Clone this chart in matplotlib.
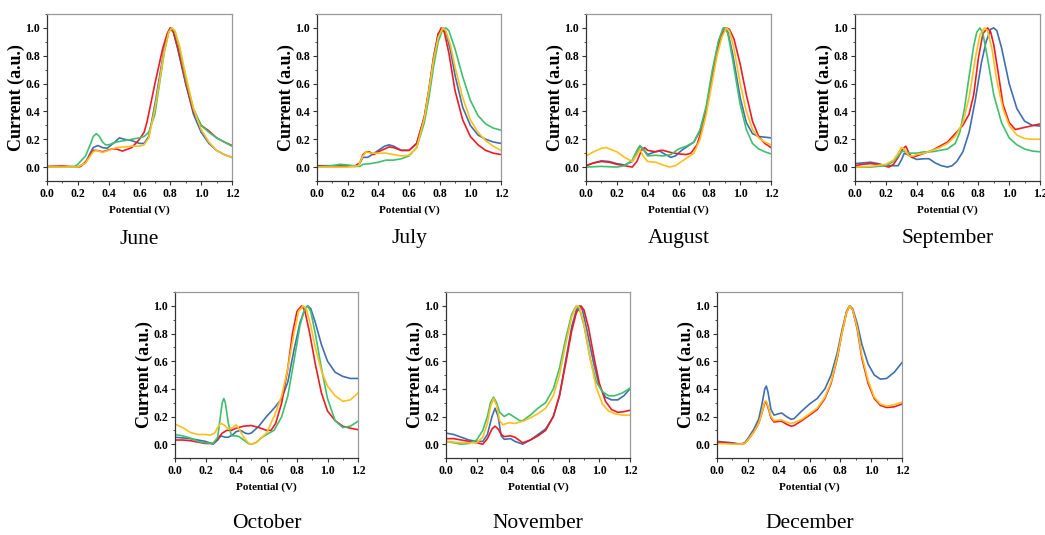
import matplotlib
matplotlib.use("Agg")
import matplotlib.pyplot as plt
from matplotlib.ticker import MultipleLocator, FormatStrFormatter

plt.rcParams["font.family"] = "Liberation Serif"

# colours of the four traces
BLUE = "#3f6fb0"
RED = "#ec1c24"
YELLOW = "#fdbf1e"
GREEN = "#3fc06e"

# each month: colour -> (potential V, normalised current)
june = {
    BLUE: ([0, 0.1, 0.2, 0.25, 0.28, 0.30, 0.33, 0.36, 0.39, 0.44, 0.47, 0.50, 0.55, 0.60, 0.63, 0.66, 0.70, 0.73, 0.76, 0.79, 0.80, 0.82, 0.85, 0.90, 0.95, 1.00, 1.05, 1.10, 1.15, 1.20],
           [0, 0, 0.0, 0.03, 0.10, 0.14, 0.155, 0.14, 0.135, 0.18, 0.21, 0.20, 0.19, 0.17, 0.17, 0.22, 0.45, 0.65, 0.85, 0.98, 1.0, 0.97, 0.84, 0.60, 0.38, 0.25, 0.17, 0.12, 0.09, 0.07]),
    RED: ([0, 0.1, 0.2, 0.22, 0.26, 0.30, 0.32, 0.36, 0.42, 0.45, 0.49, 0.55, 0.60, 0.63, 0.65, 0.70, 0.72, 0.75, 0.78, 0.80, 0.82, 0.85, 0.90, 0.95, 1.00, 1.05, 1.10, 1.15, 1.20],
          [0.005, 0.008, 0.0, 0.005, 0.05, 0.12, 0.12, 0.11, 0.13, 0.13, 0.115, 0.14, 0.20, 0.25, 0.33, 0.60, 0.70, 0.85, 0.96, 1.0, 0.97, 0.85, 0.60, 0.40, 0.30, 0.26, 0.21, 0.18, 0.155]),
    YELLOW: ([0, 0.1, 0.2, 0.25, 0.30, 0.32, 0.36, 0.40, 0.45, 0.50, 0.55, 0.60, 0.63, 0.66, 0.70, 0.73, 0.76, 0.79, 0.81, 0.83, 0.86, 0.90, 0.95, 1.00, 1.05, 1.10, 1.15, 1.20],
             [0, 0, 0, 0.03, 0.11, 0.12, 0.105, 0.12, 0.14, 0.145, 0.15, 0.15, 0.16, 0.21, 0.42, 0.62, 0.83, 0.97, 1.0, 0.98, 0.87, 0.66, 0.42, 0.27, 0.18, 0.12, 0.09, 0.07]),
    GREEN: ([0, 0.1, 0.18, 0.2, 0.25, 0.28, 0.30, 0.32, 0.34, 0.36, 0.38, 0.40, 0.45, 0.50, 0.55, 0.60, 0.63, 0.66, 0.70, 0.73, 0.76, 0.79, 0.81, 0.83, 0.86, 0.90, 0.95, 1.00, 1.05, 1.10, 1.15, 1.20],
            [0, 0, 0.005, 0.02, 0.08, 0.16, 0.22, 0.24, 0.22, 0.18, 0.16, 0.16, 0.18, 0.19, 0.20, 0.21, 0.22, 0.25, 0.38, 0.60, 0.82, 0.97, 1.0, 0.97, 0.85, 0.63, 0.42, 0.30, 0.25, 0.21, 0.18, 0.15]),
}

july = {
    BLUE: ([0, 0.1, 0.2, 0.25, 0.28, 0.30, 0.33, 0.36, 0.40, 0.44, 0.47, 0.50, 0.55, 0.60, 0.65, 0.70, 0.73, 0.76, 0.79, 0.82, 0.84, 0.87, 0.90, 0.95, 1.00, 1.05, 1.10, 1.15, 1.20],
           [0.01, 0.01, 0.01, 0.01, 0.03, 0.07, 0.07, 0.09, 0.12, 0.15, 0.16, 0.15, 0.12, 0.12, 0.17, 0.36, 0.56, 0.79, 0.96, 1.0, 0.97, 0.84, 0.66, 0.43, 0.30, 0.23, 0.20, 0.18, 0.17]),
    RED: ([0, 0.1, 0.2, 0.25, 0.28, 0.30, 0.32, 0.34, 0.37, 0.40, 0.44, 0.47, 0.50, 0.55, 0.60, 0.65, 0.70, 0.73, 0.76, 0.79, 0.81, 0.83, 0.86, 0.90, 0.95, 1.00, 1.05, 1.10, 1.15, 1.20],
          [0.005, 0.005, 0.005, 0.005, 0.03, 0.09, 0.11, 0.11, 0.09, 0.11, 0.13, 0.145, 0.14, 0.12, 0.12, 0.17, 0.36, 0.55, 0.78, 0.95, 1.0, 0.97, 0.82, 0.55, 0.34, 0.22, 0.16, 0.12, 0.10, 0.09]),
    YELLOW: ([0, 0.1, 0.2, 0.27, 0.30, 0.32, 0.35, 0.40, 0.45, 0.50, 0.55, 0.60, 0.65, 0.70, 0.73, 0.76, 0.79, 0.82, 0.84, 0.87, 0.90, 0.95, 1.00, 1.05, 1.10, 1.15, 1.20],
             [0, 0, 0, 0.01, 0.08, 0.11, 0.10, 0.10, 0.10, 0.09, 0.08, 0.085, 0.14, 0.35, 0.55, 0.77, 0.93, 1.0, 0.98, 0.88, 0.72, 0.50, 0.34, 0.25, 0.19, 0.15, 0.12]),
    GREEN: ([0, 0.1, 0.15, 0.2, 0.25, 0.28, 0.30, 0.35, 0.40, 0.45, 0.50, 0.55, 0.60, 0.65, 0.70, 0.73, 0.76, 0.79, 0.82, 0.84, 0.86, 0.90, 0.95, 1.00, 1.05, 1.10, 1.15, 1.20],
            [0, 0.01, 0.02, 0.015, 0.005, 0.005, 0.02, 0.025, 0.035, 0.05, 0.05, 0.06, 0.08, 0.14, 0.32, 0.50, 0.72, 0.90, 0.99, 1.0, 0.98, 0.85, 0.65, 0.48, 0.37, 0.31, 0.28, 0.265]),
}

august = {
    BLUE: ([0, 0.05, 0.1, 0.15, 0.2, 0.25, 0.30, 0.33, 0.35, 0.37, 0.40, 0.45, 0.48, 0.50, 0.55, 0.58, 0.62, 0.66, 0.70, 0.74, 0.78, 0.82, 0.86, 0.89, 0.90, 0.92, 0.95, 1.00, 1.04, 1.08, 1.12, 1.16, 1.20],
           [0.01, 0.03, 0.045, 0.04, 0.025, 0.015, 0.04, 0.10, 0.15, 0.13, 0.09, 0.11, 0.115, 0.10, 0.07, 0.08, 0.12, 0.15, 0.18, 0.26, 0.42, 0.68, 0.90, 0.99, 1.0, 0.97, 0.82, 0.50, 0.32, 0.24, 0.22, 0.215, 0.21]),
    RED: ([0, 0.05, 0.1, 0.15, 0.2, 0.25, 0.30, 0.33, 0.36, 0.38, 0.40, 0.45, 0.48, 0.50, 0.55, 0.60, 0.65, 0.68, 0.72, 0.76, 0.80, 0.84, 0.88, 0.91, 0.93, 0.96, 1.00, 1.04, 1.08, 1.12, 1.16, 1.20],
          [0.01, 0.03, 0.04, 0.035, 0.02, 0.01, 0.0, 0.04, 0.12, 0.14, 0.12, 0.11, 0.12, 0.12, 0.105, 0.095, 0.09, 0.10, 0.16, 0.30, 0.53, 0.78, 0.95, 1.0, 0.99, 0.92, 0.74, 0.52, 0.33, 0.22, 0.17, 0.14]),
    YELLOW: ([0, 0.05, 0.1, 0.13, 0.2, 0.25, 0.30, 0.33, 0.35, 0.37, 0.40, 0.45, 0.50, 0.54, 0.58, 0.62, 0.66, 0.70, 0.74, 0.78, 0.82, 0.85, 0.88, 0.91, 0.93, 0.96, 1.00, 1.04, 1.08, 1.12, 1.16, 1.20],
             [0.08, 0.11, 0.135, 0.14, 0.11, 0.07, 0.04, 0.09, 0.13, 0.08, 0.04, 0.035, 0.015, 0.0, 0.01, 0.04, 0.07, 0.10, 0.20, 0.38, 0.62, 0.80, 0.93, 1.0, 0.98, 0.85, 0.60, 0.40, 0.27, 0.21, 0.18, 0.16]),
    GREEN: ([0, 0.1, 0.2, 0.25, 0.30, 0.33, 0.35, 0.37, 0.40, 0.45, 0.50, 0.55, 0.60, 0.65, 0.70, 0.74, 0.78, 0.82, 0.86, 0.89, 0.90, 0.92, 0.95, 1.00, 1.04, 1.08, 1.12, 1.16, 1.20],
            [0.0, 0.005, 0.0, 0.01, 0.05, 0.12, 0.155, 0.13, 0.08, 0.085, 0.08, 0.09, 0.13, 0.15, 0.18, 0.27, 0.44, 0.70, 0.91, 1.0, 1.0, 0.96, 0.78, 0.45, 0.27, 0.17, 0.13, 0.11, 0.095]),
}

september = {
    BLUE: ([0, 0.05, 0.1, 0.15, 0.2, 0.25, 0.28, 0.30, 0.32, 0.34, 0.37, 0.40, 0.45, 0.48, 0.52, 0.56, 0.60, 0.63, 0.66, 0.70, 0.74, 0.78, 0.82, 0.85, 0.88, 0.90, 0.92, 0.95, 1.00, 1.05, 1.10, 1.15, 1.20],
           [0.025, 0.03, 0.035, 0.025, 0.01, 0.01, 0.01, 0.05, 0.10, 0.09, 0.07, 0.055, 0.06, 0.06, 0.03, 0.01, 0.0, 0.01, 0.04, 0.11, 0.25, 0.48, 0.75, 0.90, 0.99, 1.0, 0.98, 0.86, 0.60, 0.42, 0.33, 0.30, 0.295]),
    RED: ([0, 0.05, 0.1, 0.15, 0.2, 0.22, 0.25, 0.28, 0.31, 0.33, 0.35, 0.37, 0.40, 0.45, 0.50, 0.55, 0.60, 0.65, 0.70, 0.74, 0.77, 0.80, 0.83, 0.86, 0.88, 0.90, 0.93, 0.96, 1.00, 1.04, 1.08, 1.12, 1.16, 1.20],
          [0.01, 0.02, 0.025, 0.02, 0.005, 0.0, 0.02, 0.07, 0.13, 0.15, 0.10, 0.07, 0.08, 0.10, 0.12, 0.15, 0.18, 0.24, 0.30, 0.38, 0.52, 0.78, 0.96, 1.0, 0.97, 0.88, 0.67, 0.45, 0.32, 0.27, 0.28, 0.29, 0.30, 0.31]),
    YELLOW: ([0, 0.1, 0.2, 0.25, 0.28, 0.30, 0.32, 0.35, 0.38, 0.40, 0.45, 0.50, 0.55, 0.60, 0.65, 0.70, 0.74, 0.78, 0.81, 0.84, 0.86, 0.89, 0.92, 0.96, 1.00, 1.05, 1.10, 1.15, 1.20],
             [0.0, 0.005, 0.02, 0.05, 0.10, 0.14, 0.13, 0.08, 0.08, 0.09, 0.10, 0.12, 0.14, 0.17, 0.22, 0.32, 0.50, 0.78, 0.95, 1.0, 0.98, 0.84, 0.62, 0.42, 0.30, 0.23, 0.205, 0.20, 0.20]),
    GREEN: ([0, 0.1, 0.2, 0.25, 0.28, 0.30, 0.32, 0.35, 0.40, 0.45, 0.50, 0.55, 0.60, 0.65, 0.68, 0.71, 0.74, 0.77, 0.79, 0.81, 0.83, 0.86, 0.90, 0.95, 1.00, 1.05, 1.10, 1.15, 1.20],
            [0.0, 0.0, 0.01, 0.04, 0.08, 0.11, 0.115, 0.10, 0.10, 0.11, 0.11, 0.12, 0.13, 0.17, 0.25, 0.42, 0.65, 0.87, 0.97, 1.0, 0.96, 0.78, 0.52, 0.32, 0.21, 0.16, 0.13, 0.115, 0.11]),
}

october = {
    BLUE: ([0, 0.05, 0.1, 0.15, 0.2, 0.25, 0.28, 0.30, 0.33, 0.35, 0.38, 0.40, 0.43, 0.46, 0.48, 0.50, 0.55, 0.60, 0.65, 0.70, 0.74, 0.78, 0.82, 0.85, 0.87, 0.89, 0.92, 0.96, 1.00, 1.05, 1.10, 1.15, 1.20],
           [0.05, 0.045, 0.04, 0.03, 0.02, 0.0, 0.03, 0.06, 0.05, 0.05, 0.07, 0.09, 0.10, 0.08, 0.075, 0.08, 0.13, 0.20, 0.26, 0.33, 0.45, 0.68, 0.88, 0.97, 1.0, 0.98, 0.88, 0.72, 0.60, 0.52, 0.49, 0.475, 0.475]),
    RED: ([0, 0.05, 0.1, 0.15, 0.2, 0.25, 0.28, 0.31, 0.34, 0.37, 0.40, 0.45, 0.50, 0.55, 0.60, 0.63, 0.66, 0.70, 0.74, 0.77, 0.80, 0.83, 0.85, 0.88, 0.92, 0.96, 1.00, 1.05, 1.10, 1.15, 1.20],
          [0.03, 0.03, 0.025, 0.015, 0.005, 0.005, 0.04, 0.08, 0.10, 0.10, 0.115, 0.13, 0.135, 0.12, 0.10, 0.10, 0.15, 0.30, 0.55, 0.80, 0.96, 1.0, 0.97, 0.82, 0.58, 0.37, 0.24, 0.17, 0.13, 0.115, 0.105]),
    YELLOW: ([0, 0.05, 0.1, 0.15, 0.2, 0.23, 0.26, 0.28, 0.30, 0.32, 0.35, 0.38, 0.40, 0.42, 0.45, 0.48, 0.50, 0.53, 0.56, 0.60, 0.65, 0.70, 0.74, 0.78, 0.81, 0.84, 0.86, 0.89, 0.92, 0.96, 1.00, 1.05, 1.10, 1.15, 1.20],
             [0.145, 0.12, 0.085, 0.07, 0.07, 0.065, 0.08, 0.12, 0.15, 0.14, 0.11, 0.12, 0.14, 0.11, 0.05, 0.01, 0.0, 0.01, 0.04, 0.08, 0.20, 0.35, 0.55, 0.80, 0.96, 1.0, 0.98, 0.86, 0.70, 0.53, 0.42, 0.35, 0.31, 0.32, 0.37]),
    GREEN: ([0, 0.05, 0.1, 0.15, 0.2, 0.25, 0.28, 0.30, 0.31, 0.32, 0.33, 0.35, 0.37, 0.40, 0.42, 0.45, 0.48, 0.50, 0.53, 0.56, 0.60, 0.65, 0.70, 0.74, 0.78, 0.82, 0.85, 0.87, 0.89, 0.92, 0.96, 1.00, 1.05, 1.10, 1.15, 1.20],
            [0.07, 0.06, 0.045, 0.02, 0.01, 0.005, 0.05, 0.22, 0.30, 0.33, 0.30, 0.15, 0.06, 0.06, 0.055, 0.03, 0.005, 0.0, 0.01, 0.04, 0.07, 0.10, 0.20, 0.35, 0.60, 0.86, 0.98, 1.0, 0.96, 0.80, 0.55, 0.33, 0.17, 0.12, 0.13, 0.165]),
}

november = {
    BLUE: ([0, 0.05, 0.1, 0.15, 0.2, 0.24, 0.27, 0.30, 0.32, 0.34, 0.36, 0.38, 0.42, 0.45, 0.50, 0.55, 0.60, 0.65, 0.70, 0.74, 0.78, 0.82, 0.85, 0.87, 0.89, 0.92, 0.96, 1.00, 1.04, 1.08, 1.12, 1.16, 1.20],
           [0.08, 0.07, 0.05, 0.03, 0.02, 0.02, 0.07, 0.20, 0.26, 0.20, 0.06, 0.035, 0.04, 0.02, 0.0, 0.03, 0.07, 0.11, 0.20, 0.35, 0.60, 0.85, 0.97, 1.0, 0.97, 0.82, 0.60, 0.42, 0.34, 0.32, 0.32, 0.35, 0.40]),
    RED: ([0, 0.05, 0.1, 0.15, 0.2, 0.24, 0.27, 0.30, 0.32, 0.34, 0.36, 0.38, 0.42, 0.45, 0.50, 0.55, 0.60, 0.65, 0.70, 0.74, 0.78, 0.82, 0.85, 0.88, 0.90, 0.93, 0.97, 1.00, 1.04, 1.08, 1.12, 1.16, 1.20],
          [0.04, 0.04, 0.03, 0.02, 0.01, 0.0, 0.04, 0.11, 0.13, 0.11, 0.07, 0.055, 0.06, 0.05, 0.01, 0.03, 0.06, 0.10, 0.20, 0.35, 0.58, 0.82, 0.95, 1.0, 0.97, 0.84, 0.60, 0.44, 0.31, 0.25, 0.23, 0.235, 0.245]),
    YELLOW: ([0, 0.05, 0.1, 0.15, 0.2, 0.24, 0.27, 0.29, 0.31, 0.33, 0.35, 0.37, 0.41, 0.45, 0.50, 0.55, 0.60, 0.65, 0.70, 0.74, 0.78, 0.82, 0.85, 0.87, 0.90, 0.94, 0.98, 1.02, 1.06, 1.10, 1.15, 1.20],
             [0.02, 0.015, 0.01, 0.01, 0.01, 0.05, 0.15, 0.27, 0.33, 0.28, 0.17, 0.14, 0.155, 0.15, 0.165, 0.19, 0.22, 0.26, 0.35, 0.50, 0.72, 0.92, 1.0, 0.99, 0.87, 0.62, 0.41, 0.29, 0.24, 0.22, 0.21, 0.21]),
    GREEN: ([0, 0.05, 0.1, 0.15, 0.2, 0.24, 0.27, 0.29, 0.31, 0.33, 0.35, 0.38, 0.41, 0.44, 0.48, 0.50, 0.55, 0.60, 0.65, 0.70, 0.74, 0.78, 0.82, 0.85, 0.87, 0.90, 0.94, 0.98, 1.02, 1.06, 1.10, 1.15, 1.20],
            [0.02, 0.01, 0.0, 0.005, 0.03, 0.10, 0.20, 0.30, 0.34, 0.30, 0.23, 0.20, 0.22, 0.20, 0.17, 0.17, 0.21, 0.26, 0.30, 0.40, 0.55, 0.76, 0.94, 1.0, 0.98, 0.86, 0.62, 0.45, 0.38, 0.35, 0.35, 0.37, 0.405]),
}

december = {
    BLUE: ([0, 0.05, 0.1, 0.15, 0.18, 0.2, 0.24, 0.27, 0.29, 0.31, 0.32, 0.33, 0.35, 0.37, 0.40, 0.42, 0.45, 0.48, 0.50, 0.55, 0.60, 0.65, 0.70, 0.74, 0.78, 0.81, 0.84, 0.86, 0.88, 0.91, 0.94, 0.98, 1.02, 1.06, 1.10, 1.15, 1.20],
           [0.02, 0.015, 0.01, 0.0, 0.01, 0.04, 0.11, 0.18, 0.28, 0.40, 0.42, 0.38, 0.25, 0.21, 0.22, 0.225, 0.20, 0.18, 0.185, 0.24, 0.29, 0.33, 0.40, 0.50, 0.66, 0.82, 0.96, 1.0, 0.98, 0.87, 0.72, 0.58, 0.50, 0.47, 0.475, 0.52, 0.59]),
    RED: ([0, 0.05, 0.1, 0.15, 0.18, 0.2, 0.24, 0.27, 0.29, 0.31, 0.32, 0.33, 0.35, 0.37, 0.40, 0.42, 0.45, 0.48, 0.50, 0.55, 0.60, 0.65, 0.70, 0.74, 0.78, 0.81, 0.84, 0.86, 0.88, 0.91, 0.94, 0.98, 1.02, 1.06, 1.10, 1.15, 1.20],
          [0.015, 0.01, 0.005, 0.0, 0.005, 0.03, 0.09, 0.15, 0.22, 0.30, 0.30, 0.27, 0.19, 0.16, 0.165, 0.165, 0.145, 0.13, 0.135, 0.17, 0.21, 0.25, 0.33, 0.44, 0.62, 0.80, 0.95, 1.0, 0.97, 0.83, 0.62, 0.44, 0.33, 0.28, 0.265, 0.27, 0.29]),
    YELLOW: ([0, 0.05, 0.1, 0.15, 0.18, 0.2, 0.24, 0.27, 0.29, 0.31, 0.32, 0.33, 0.35, 0.37, 0.40, 0.42, 0.45, 0.48, 0.50, 0.55, 0.60, 0.65, 0.70, 0.74, 0.78, 0.81, 0.84, 0.86, 0.88, 0.91, 0.94, 0.98, 1.02, 1.06, 1.10, 1.15, 1.20],
             [0.005, 0.003, 0.0, 0.0, 0.005, 0.03, 0.09, 0.15, 0.22, 0.31, 0.31, 0.28, 0.20, 0.17, 0.175, 0.175, 0.16, 0.15, 0.155, 0.18, 0.22, 0.26, 0.34, 0.45, 0.63, 0.80, 0.95, 1.0, 0.97, 0.84, 0.64, 0.46, 0.34, 0.29, 0.275, 0.285, 0.305]),
}

months = ["June", "July", "August", "September", "October", "November", "December"]
month_data = [june, july, august, september, october, november, december]

# axes boxes in pixels of the 1045x535 picture: left, right, top, bottom
W, H = 1045, 535
boxes = [
    (47, 232, 14, 181), (317, 501, 14, 181), (586, 771, 14, 181), (855, 1040, 14, 181),
    (175, 358, 292, 458), (446, 630, 292, 458), (717, 902, 292, 458),
]
title_y = [239, 239, 239, 239, 523, 523, 523]

fig = plt.figure(figsize=(W / 100, H / 100), dpi=100)

for name, data, (l, r, t, b), ty in zip(months, month_data, boxes, title_y):
    ax = fig.add_axes([l / W, 1 - b / H, (r - l) / W, (b - t) / H])
    for color in (BLUE, RED, GREEN, YELLOW):
        if color in data:
            xs, ys = data[color]
            ax.plot(xs, ys, color=color, lw=1.2, solid_joinstyle="round")
    ax.set_xlim(0, 1.2)
    ax.set_ylim(-0.1, 1.1)
    ax.xaxis.set_major_locator(MultipleLocator(0.2))
    ax.xaxis.set_minor_locator(MultipleLocator(0.1))
    ax.set_yticks([0, 0.2, 0.4, 0.6, 0.8, 1.0])
    ax.yaxis.set_minor_locator(MultipleLocator(0.1))
    ax.xaxis.set_major_formatter(FormatStrFormatter("%.1f"))
    ax.yaxis.set_major_formatter(FormatStrFormatter("%.1f"))
    ax.tick_params(which="major", direction="out", length=3, width=0.8,
                   labelsize=8.5, pad=2, color="#333333")
    ax.tick_params(which="minor", direction="out", length=1.5, width=0.6, color="#333333")
    for lab in ax.get_xticklabels() + ax.get_yticklabels():
        lab.set_fontweight("bold")
    for side in ("left", "bottom"):
        ax.spines[side].set_color("#333333")
        ax.spines[side].set_linewidth(0.9)
    for side in ("top", "right"):
        ax.spines[side].set_color("#999999")
        ax.spines[side].set_linewidth(0.9)
    ax.set_xlabel("Potential (V)", fontsize=8, fontweight="bold", labelpad=4)
    ax.set_ylabel("Current (a.u.)", fontsize=13, fontweight="bold")
    ax.yaxis.set_label_coords(-0.12, 0.5)
    fig.text((l + r) / 2 / W, 1 - ty / H, name, ha="center", va="center", fontsize=15.5)

fig.savefig("out.png", dpi=100)
